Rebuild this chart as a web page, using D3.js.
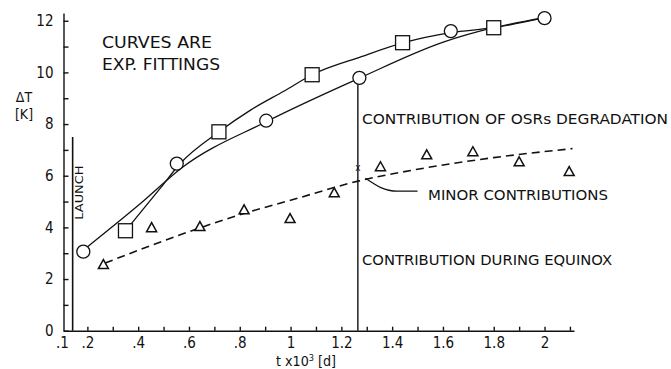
<!DOCTYPE html>
<html>
<head>
<meta charset="utf-8">
<script src="https://cdn.jsdelivr.net/npm/d3@7"></script>
<style>
  body { margin: 0; background: #fff; }
  text { font-family: "Liberation Sans Narrow", "DejaVu Sans Condensed", sans-serif; fill: #111; }
</style>
</head>
<body>
<div id="grafico"></div>
<script>
// Dados (t x10^3 [d], ΔT [K])
const circulosT = [0.184, 0.552, 0.904, 1.271, 1.631, 2.0];
const circulosV = [3.06, 6.47, 8.13, 9.79, 11.6, 12.1];
const quadradosT = [0.35, 0.718, 1.085, 1.441, 1.80];
const quadradosV = [3.87, 7.7, 9.91, 11.15, 11.73];
const triangulosT = [0.263, 0.453, 0.643, 0.817, 0.998, 1.172, 1.354, 1.536, 1.718, 1.9, 2.097];
const triangulosV = [2.56, 3.99, 4.03, 4.68, 4.34, 5.34, 6.35, 6.81, 6.93, 6.54, 6.16];

// Curvas de ajuste exponencial (pontos lidos sobre as curvas)
const ajusteCirculosT = [0.196, 0.409, 0.572, 0.904, 1.267, 1.607, 1.80, 2.0];
const ajusteCirculosV = [3.21, 4.92, 6.31, 8.09, 9.76, 11.19, 11.73, 12.12];
const ajusteQuadradosT = [0.366, 0.489, 0.568, 0.718, 0.844, 0.975, 1.085, 1.279, 1.445, 1.631, 1.80, 2.0];
const ajusteQuadradosV = [4.06, 5.54, 6.50, 7.70, 8.55, 9.28, 9.91, 10.61, 11.15, 11.54, 11.73, 12.12];
const ajusteTriangulosT = [0.27, 0.64, 0.82, 1.0, 1.27, 1.5, 1.8, 2.11];
const ajusteTriangulosV = [2.62, 3.97, 4.55, 5.05, 5.8, 6.25, 6.7, 7.05];

// Eixos
const ticksX = [0.2, 0.3, 0.4, 0.5, 0.6, 0.7, 0.8, 0.9, 1.0, 1.1, 1.2, 1.3, 1.4, 1.5, 1.6, 1.7, 1.8, 1.9, 2.0, 2.1];
const rotulosXValor = [0.1, 0.2, 0.4, 0.6, 0.8, 1.0, 1.2, 1.4, 1.6, 1.8, 2.0];
const rotulosXTexto = ['.1', '.2', '.4', '.6', '.8', '1', '1.2', '1.4', '1.6', '1.8', '2'];
const ticksY = [0, 1, 2, 3, 4, 5, 6, 7, 8, 9, 10, 11, 12];
const rotulosY = [0, 2, 4, 6, 8, 10, 12];

const tLancamento = 0.142;
const tEquinocio = 1.265;

function criarGrafico() {
  const largura = 671;
  const altura = 369;

  const svg = d3.select('#grafico')
    .append('svg')
    .attr('width', largura)
    .attr('height', altura);

  const x = d3.scaleLinear().domain([0.106, 2.116]).range([63.5, 574]);
  const y = d3.scaleLinear().domain([0, 12.3]).range([330.7, 13]);

  // Eixo X: marcas pequenas a cada 0.1
  svg.append('g')
    .attr('transform', `translate(0,${y(0)})`)
    .call(d3.axisBottom(x).tickValues(ticksX).tickSize(-4).tickSizeOuter(0).tickFormat(''))
    .call((g) => g.selectAll('line,path').attr('stroke', '#111').attr('stroke-width', 1.4));

  // Rótulos do eixo X
  svg.append('g')
    .attr('transform', `translate(0,${y(0)})`)
    .call(d3.axisBottom(x).tickValues(rotulosXValor).tickSize(0).tickPadding(7)
      .tickFormat((d, i) => rotulosXTexto[i]))
    .call((g) => g.select('.domain').remove())
    .selectAll('text')
    .attr('font-size', 15)
    .attr('fill', '#111');

  // Eixo Y
  svg.append('g')
    .attr('transform', `translate(${x.range()[0]},0)`)
    .call(d3.axisLeft(y).tickValues(ticksY).tickSize(-5).tickSizeOuter(0)
      .tickPadding(10)
      .tickFormat((d) => (rotulosY.includes(d) ? d : '')))
    .call((g) => g.selectAll('line,path').attr('stroke', '#111').attr('stroke-width', 1.4))
    .selectAll('text')
    .attr('font-size', 15)
    .attr('fill', '#111');

  // Títulos dos eixos
  svg.append('text').attr('x', 24).attr('y', 102).attr('text-anchor', 'middle')
    .attr('font-size', 14).text('ΔT');
  svg.append('text').attr('x', 24).attr('y', 119).attr('text-anchor', 'middle')
    .attr('font-size', 14).text('[K]');
  svg.append('text').attr('x', 276).attr('y', 366)
    .attr('font-size', 14).attr('textLength', 60).attr('lengthAdjust', 'spacingAndGlyphs')
    .html('t x10<tspan dy="-5" font-size="9">3</tspan><tspan dy="5"> [d]</tspan>');

  // Linha de lançamento
  svg.append('line')
    .attr('x1', x(tLancamento)).attr('x2', x(tLancamento))
    .attr('y1', y(7.5)).attr('y2', y(0))
    .attr('stroke', '#111').attr('stroke-width', 1.6);
  svg.append('text')
    .attr('transform', `translate(${x(tLancamento) + 10},${y(4.3)}) rotate(-90)`)
    .attr('font-size', 11).attr('textLength', 54).attr('lengthAdjust', 'spacingAndGlyphs')
    .text('LAUNCH');

  // Linha vertical do equinócio
  svg.append('line')
    .attr('x1', x(tEquinocio)).attr('x2', x(tEquinocio))
    .attr('y1', y(9.55)).attr('y2', y(0))
    .attr('stroke', '#111').attr('stroke-width', 1.4);

  // Curvas de ajuste
  const linha = d3.line().x((d) => x(d[0])).y((d) => y(d[1])).curve(d3.curveMonotoneX);
  const juntar = (ts, vs) => ts.map((t, i) => [t, vs[i]]);

  svg.append('path').datum(juntar(ajusteCirculosT, ajusteCirculosV))
    .attr('d', linha).attr('fill', 'none').attr('stroke', '#111').attr('stroke-width', 1.3);
  svg.append('path').datum(juntar(ajusteQuadradosT, ajusteQuadradosV))
    .attr('d', linha).attr('fill', 'none').attr('stroke', '#111').attr('stroke-width', 1.3);
  svg.append('path').datum(juntar(ajusteTriangulosT, ajusteTriangulosV))
    .attr('d', linha).attr('fill', 'none').attr('stroke', '#111').attr('stroke-width', 1.6)
    .attr('stroke-dasharray', '8,5');

  // Marcadores
  svg.selectAll('.circulo').data(juntar(circulosT, circulosV)).enter()
    .append('circle').attr('class', 'circulo')
    .attr('cx', (d) => x(d[0])).attr('cy', (d) => y(d[1])).attr('r', 6.5)
    .attr('fill', '#fff').attr('stroke', '#111').attr('stroke-width', 1.3);

  svg.selectAll('.quadrado').data(juntar(quadradosT, quadradosV)).enter()
    .append('rect').attr('class', 'quadrado')
    .attr('x', (d) => x(d[0]) - 7).attr('y', (d) => y(d[1]) - 7)
    .attr('width', 14).attr('height', 14)
    .attr('fill', '#fff').attr('stroke', '#111').attr('stroke-width', 1.3);

  svg.selectAll('.triangulo').data(juntar(triangulosT, triangulosV)).enter()
    .append('path').attr('class', 'triangulo')
    .attr('d', (d) => {
      const cx = x(d[0]);
      const cy = y(d[1]);
      return `M${cx - 5},${cy + 4}L${cx},${cy - 5}L${cx + 5},${cy + 4}Z`;
    })
    .attr('fill', '#fff').attr('stroke', '#111').attr('stroke-width', 1.5);

  // Marca na interseção
  svg.append('text').attr('x', x(tEquinocio)).attr('y', y(6.2)).attr('text-anchor', 'middle')
    .attr('font-size', 10).text('x');

  // Anotações
  svg.append('text').attr('x', 102).attr('y', 48).attr('font-size', 15)
    .attr('textLength', 110).attr('lengthAdjust', 'spacingAndGlyphs').text('CURVES ARE');
  svg.append('text').attr('x', 102).attr('y', 70).attr('font-size', 15)
    .attr('textLength', 118).attr('lengthAdjust', 'spacingAndGlyphs').text('EXP. FITTINGS');

  svg.append('text').attr('x', 362).attr('y', 124).attr('font-size', 14)
    .attr('textLength', 306).attr('lengthAdjust', 'spacingAndGlyphs')
    .text('CONTRIBUTION OF OSRs DEGRADATION');
  svg.append('text').attr('x', 428).attr('y', 200).attr('font-size', 14)
    .attr('textLength', 180).attr('lengthAdjust', 'spacingAndGlyphs')
    .text('MINOR CONTRIBUTIONS');
  svg.append('text').attr('x', 362).attr('y', 265).attr('font-size', 14)
    .attr('textLength', 250).attr('lengthAdjust', 'spacingAndGlyphs')
    .text('CONTRIBUTION DURING EQUINOX');

  // Linha guia de "minor contributions"
  svg.append('path')
    .attr('d', `M${x(1.295)},${y(5.9)} C${x(1.34)},${y(5.6)} ${x(1.37)},${y(5.4)} ${x(1.42)},${y(5.4)} L${x(1.5)},${y(5.4)}`)
    .attr('fill', 'none').attr('stroke', '#111').attr('stroke-width', 1.3);
}

criarGrafico();
</script>
</body>
</html>
